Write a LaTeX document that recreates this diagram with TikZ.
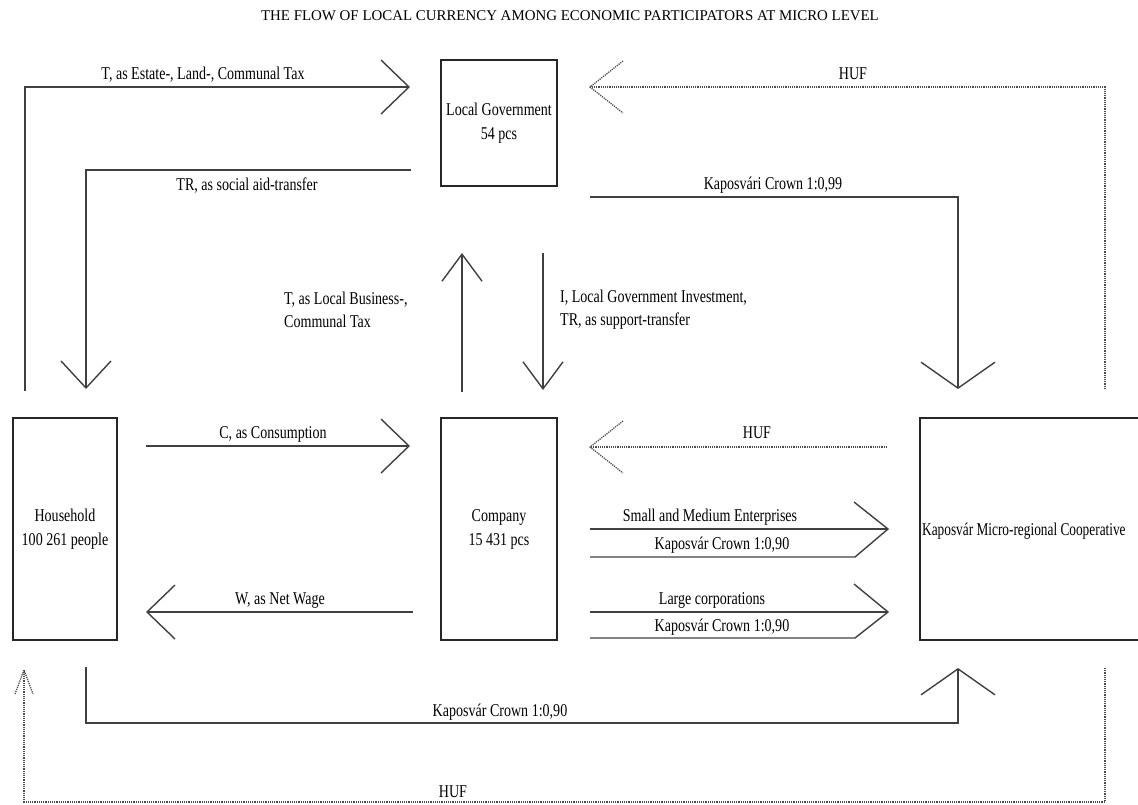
\documentclass[tikz,border=0pt]{standalone}
\usepackage{fontspec}
\setmainfont{Liberation Serif}[FakeStretch=0.78]
\newfontfamily\titlefont{Liberation Serif}
\newfontfamily\coopfont{Liberation Serif}[FakeStretch=0.74]
\usetikzlibrary{arrows.meta,calc}
\tikzset{
  box/.style={draw=black!85, line width=2pt, align=center, inner sep=0pt, font=\fontsize{18}{24}\selectfont},
  conn/.style={draw=black!75, line width=1.4pt, line join=miter},
  dots/.style={draw=black!70, line width=1.3pt, dash pattern=on 1.2pt off 1pt},
  lbl/.style={font=\fontsize{18}{23}\selectfont, inner sep=0pt},
  bigtip/.style={-{Straight Barb[length=28pt,width=54pt]}},
  vtip/.style={-{Straight Barb[length=27pt,width=40pt]}},
  widetip/.style={-{Straight Barb[length=26pt,width=74pt]}},
  sidetip/.style={-{Straight Barb[length=27pt,width=50pt]}}
}
\begin{document}
\begin{tikzpicture}[x=1pt,y=-1pt]
\useasboundingbox (0,0) rectangle (1138,804);
\clip (0,0) rectangle (1138,804);

% title
\node[inner sep=0pt, font=\titlefont\fontsize{14.9}{18}\selectfont] (title) at (570,16) {THE FLOW OF LOCAL CURRENCY AMONG ECONOMIC PARTICIPATORS AT MICRO LEVEL};

% boxes
\node[box, minimum width=116pt, minimum height=126pt] (lg) at (499,123) {Local Government\\54 pcs};
\node[box, minimum width=104pt, minimum height=222pt] (hh) at (65,529) {Household\\100 261 people};
\node[box, minimum width=116pt, minimum height=222pt] (comp) at (499,529) {Company\\15 431 pcs};
\node[box, minimum width=226pt, minimum height=222pt] (coop) at (1033,529) {};
\node[inner sep=0pt, anchor=west, font=\coopfont\fontsize{18}{23}\selectfont] (cooptext) at (922,531) {Kaposvár Micro-regional Cooperative};

% coordinates
\coordinate (a1) at (25,391);   \coordinate (a2) at (25,87);   \coordinate (a3) at (410,87);
\coordinate (b1) at (411,170);  \coordinate (b2) at (86,170);  \coordinate (b3) at (86,389);
\coordinate (c1) at (1105,389); \coordinate (c2) at (1105,87); \coordinate (c3) at (590,87);
\coordinate (d1) at (590,197);  \coordinate (d2) at (958,197); \coordinate (d3) at (958,389);
\coordinate (e1) at (462,392);  \coordinate (e2) at (462,253);
\coordinate (f1) at (543,253);  \coordinate (f2) at (543,390);
\coordinate (g1) at (146,446);  \coordinate (g2) at (410,446);
\coordinate (h1) at (887,447);  \coordinate (h2) at (590,447);
\coordinate (w1) at (413,612);  \coordinate (w2) at (146,612);
\coordinate (k1) at (86,667);   \coordinate (k2) at (86,723);  \coordinate (k3) at (958,723); \coordinate (k4) at (958,668);
\coordinate (m1) at (1105,668); \coordinate (m2) at (1105,802);\coordinate (m3) at (24,802);  \coordinate (m4) at (24,670);

% connectors
\draw[conn, bigtip] (a1) -- (a2) -- (a3);
\draw[conn, sidetip] (b1) -- (b2) -- (b3);
\draw[dots] (c1) -- (c2) -- (c3);
\draw[dots] ($(c3)+(33,-26)$) -- (c3) -- ($(c3)+(33,26)$);
\draw[conn, widetip] (d1) -- (d2) -- (d3);
\draw[conn, vtip] (e1) -- (e2);
\draw[conn, vtip] (f1) -- (f2);
\draw[conn, bigtip] (g1) -- (g2);
\draw[dots] (h1) -- (h2);
\draw[dots] ($(h2)+(33,-26)$) -- (h2) -- ($(h2)+(33,26)$);
\draw[conn, bigtip] (w1) -- (w2);
\draw[conn, widetip] (k1) -- (k2) -- (k3) -- (k4);
\draw[dots] (m1) -- (m2) -- (m3) -- (m4);
\draw[dots] ($(m4)+(-9,24)$) -- (m4) -- ($(m4)+(9,24)$);

% double-line arrows company -> cooperative
\coordinate (s1) at (590,529); \coordinate (s2) at (888,529); \coordinate (s3) at (854,502);
\coordinate (s4) at (855,557); \coordinate (s5) at (590,557);
\draw[conn] (s1) -- (s2);
\draw[conn] (s3) -- (s2) -- (s4) -- (s5);
\coordinate (l1) at (590,612); \coordinate (l2) at (888,612); \coordinate (l3) at (854,584);
\coordinate (l4) at (855,638); \coordinate (l5) at (590,638);
\draw[conn] (l1) -- (l2);
\draw[conn] (l3) -- (l2) -- (l4) -- (l5);

% labels
\node[lbl] (t1) at (203,75) {T, as Estate-, Land-, Communal Tax};
\node[lbl] (t2) at (247,186) {TR, as social aid-transfer};
\node[lbl] (t3) at (853,74) {HUF};
\node[lbl] (t4) at (773,185) {Kaposvári Crown 1:0,99};
\node[lbl, anchor=west, align=left] (t5) at (284,310) {T, as Local Business-,\\Communal Tax};
\node[lbl, anchor=west, align=left] (t6) at (560,310) {I, Local Government Investment,\\TR, as support-transfer};
\node[lbl] (t7) at (273,434) {C, as Consumption};
\node[lbl] (t8) at (757,433) {HUF};
\node[lbl] (t9) at (710,517) {Small and Medium Enterprises};
\node[lbl] (t10) at (722,545) {Kaposvár Crown 1:0,90};
\node[lbl] (t11) at (712,600) {Large corporations};
\node[lbl] (t12) at (722,627) {Kaposvár Crown 1:0,90};
\node[lbl] (t13) at (280,601) {W, as Net Wage};
\node[lbl] (t14) at (500,712) {Kaposvár Crown 1:0,90};
\node[lbl] (t15) at (453,792) {HUF};
\end{tikzpicture}
\end{document}
